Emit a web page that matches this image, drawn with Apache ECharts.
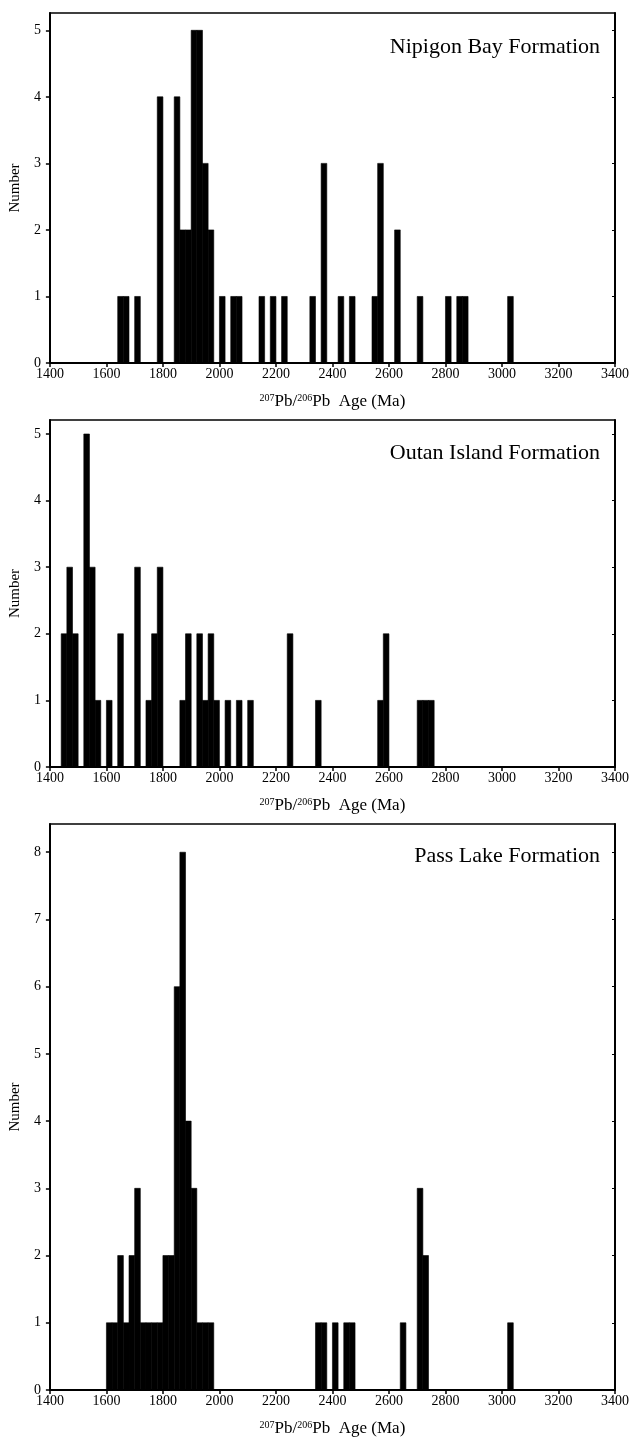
<!DOCTYPE html>
<html>
<head>
<meta charset="utf-8">
<script src="https://cdn.jsdelivr.net/npm/echarts@6/dist/echarts.min.js"></script>
<style>
html,body{margin:0;padding:0;background:#fff;}
#chart{width:632px;height:1448px;}
</style>
</head>
<body>
<div id="chart"></div>
<script>
// ---- data ----
const binWidth = 20; // Ma
const xTicks = [1400,1600,1800,2000,2200,2400,2600,2800,3000,3200,3400];

const nipigonTitle = 'Nipigon Bay Formation';
const nipigonStart = [1640,1660,1700,1780,1840,1860,1880,1900,1920,1940,1960,2000,2040,2060,2140,2180,2220,2320,2360,2420,2460,2540,2560,2620,2700,2800,2840,2860,3020];
const nipigonCount = [1,1,1,4,4,2,2,5,5,3,2,1,1,1,1,1,1,1,3,1,1,1,3,2,1,1,1,1,1];
const nipigonYTicks = [0,1,2,3,4,5];

const outanTitle = 'Outan Island Formation';
const outanStart = [1440,1460,1480,1520,1540,1560,1600,1640,1700,1740,1760,1780,1860,1880,1920,1940,1960,1980,2020,2060,2100,2240,2340,2560,2580,2700,2720,2740];
const outanCount = [2,3,2,5,3,1,1,2,3,1,2,3,1,2,2,1,2,1,1,1,1,2,1,1,2,1,1,1];
const outanYTicks = [0,1,2,3,4,5];

const passTitle = 'Pass Lake Formation';
const passStart = [1600,1620,1640,1660,1680,1700,1720,1740,1760,1780,1800,1820,1840,1860,1880,1900,1920,1940,1960,2340,2360,2400,2440,2460,2640,2700,2720,3020];
const passCount = [1,1,2,1,2,3,1,1,1,1,2,2,6,8,4,3,1,1,1,1,1,1,1,1,1,3,2,1];
const passYTicks = [0,1,2,3,4,5,6,7,8];

const xName = '{sup|207}Pb/{sup|206}Pb  Age (Ma)';
const yName = 'Number';

// ---- layout ----
const FONT = '"Liberation Serif", "DejaVu Serif", serif';
const panels = [
  {title: nipigonTitle, start: nipigonStart, count: nipigonCount, yTicks: nipigonYTicks, top: 13, height: 350, ymax: 5.26, titleTop: 31},
  {title: outanTitle, start: outanStart, count: outanCount, yTicks: outanYTicks, top: 420, height: 347, ymax: 5.21, titleTop: 437},
  {title: passTitle, start: passStart, count: passCount, yTicks: passYTicks, top: 824, height: 566, ymax: 8.42, titleTop: 840}
];

const grid = [], xAxis = [], yAxis = [], series = [], title = [];
panels.forEach((p, i) => {
  grid.push({left: 49, width: 568, top: p.top, height: p.height, show: false});
  xAxis.push({
    type: 'value', gridIndex: i, min: 1400, max: 3400, interval: 200,
    axisLine: {show: true, onZero: false, lineStyle: {color: '#000', width: 2}},
    axisTick: {show: true, length: 4, lineStyle: {color: '#000', width: 1.5}},
    axisLabel: {color: '#000', fontFamily: FONT, fontSize: 14, margin: 4,
      customValues: xTicks, formatter: v => String(v)},
    splitLine: {show: false},
    name: xName, nameLocation: 'middle', nameGap: 30,
    nameTextStyle: {color: '#000', fontFamily: FONT, fontSize: 17,
      rich: {sup: {fontSize: 10, fontFamily: FONT, color: '#000', verticalAlign: 'bottom', padding: [0, 0, 7, 0]}}}
  });
  xAxis.push({
    type: 'value', gridIndex: i, min: 1400, max: 3400, position: 'top',
    axisLine: {show: true, onZero: false, lineStyle: {color: '#000', width: 1.5}},
    axisTick: {show: false}, axisLabel: {show: false}, splitLine: {show: false}
  });
  yAxis.push({
    type: 'value', gridIndex: i, min: 0, max: p.ymax,
    axisLine: {show: true, onZero: false, lineStyle: {color: '#000', width: 2}},
    axisTick: {show: true, length: 4, lineStyle: {color: '#000', width: 1.5}, customValues: p.yTicks},
    axisLabel: {color: '#000', fontFamily: FONT, fontSize: 14, margin: 9, customValues: p.yTicks},
    splitLine: {show: false},
    name: yName, nameLocation: 'middle', nameGap: 22,
    nameTextStyle: {color: '#000', fontFamily: FONT, fontSize: 15}
  });
  yAxis.push({
    type: 'value', gridIndex: i, min: 0, max: p.ymax, position: 'right',
    axisLine: {show: true, onZero: false, lineStyle: {color: '#000', width: 2}},
    axisTick: {show: true, inside: true, length: 3, lineStyle: {color: '#000', width: 1}, customValues: p.yTicks},
    axisLabel: {show: false}, splitLine: {show: false}
  });
  series.push({
    type: 'custom', xAxisIndex: 2 * i, yAxisIndex: 2 * i,
    data: p.start.map((s, k) => [s, s + binWidth, p.count[k]]),
    renderItem: function (params, api) {
      const a = api.coord([api.value(0), api.value(2)]);
      const b = api.coord([api.value(1), 0]);
      return {type: 'rect', shape: {x: a[0], y: a[1], width: b[0] - a[0], height: b[1] - a[1]},
        style: {fill: '#000', stroke: '#000', lineWidth: 0.6}};
    },
    silent: true, animation: false
  });
  title.push({text: p.title, right: 27, top: p.titleTop,
    textStyle: {fontFamily: FONT, fontSize: 22, fontWeight: 'normal', color: '#000'}});
});

const chart = echarts.init(document.getElementById('chart'), null, {renderer: 'canvas'});
chart.setOption({animation: false, backgroundColor: '#fff', title, grid, xAxis, yAxis, series});
</script>
</body>
</html>
